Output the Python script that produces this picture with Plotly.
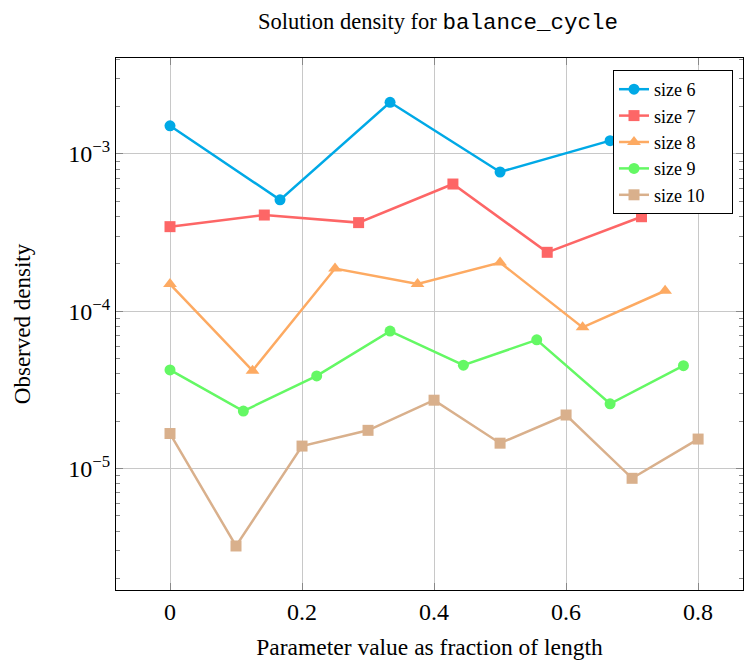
import plotly.graph_objects as go
import numpy as np

sizes = [6, 7, 8, 9, 10]
names = ["size 6", "size 7", "size 8", "size 9", "size 10"]
colors = ["#00a9e6", "#fd6666", "#fdaa62", "#64f864", "#d9b08c"]
symbols = ["circle", "square", "triangle-up", "circle", "square"]

# x values are k/n for k = 0..n-2
x6 = [0, 1/6, 2/6, 3/6, 4/6]
x7 = [0, 1/7, 2/7, 3/7, 4/7, 5/7]
x8 = [0, 1/8, 2/8, 3/8, 4/8, 5/8, 6/8]
x9 = [0, 1/9, 2/9, 3/9, 4/9, 5/9, 6/9, 7/9]
x10 = [0, 0.1, 0.2, 0.3, 0.4, 0.5, 0.6, 0.7, 0.8]

y6 = [1.51e-3, 5.11e-4, 2.13e-3, 7.68e-4, 1.215e-3]
y7 = [3.45e-4, 4.09e-4, 3.66e-4, 6.44e-4, 2.37e-4, 3.99e-4]
y8 = [1.49e-4, 4.19e-5, 1.87e-4, 1.49e-4, 2.04e-4, 7.9e-5, 1.35e-4]
y9 = [4.24e-5, 2.32e-5, 3.88e-5, 7.48e-5, 4.54e-5, 6.58e-5, 2.58e-5, 4.51e-5]
y10 = [1.67e-5, 3.22e-6, 1.39e-5, 1.75e-5, 2.72e-5, 1.45e-5, 2.19e-5, 8.67e-6, 1.54e-5]

xs = [x6, x7, x8, x9, x10]
ys = [y6, y7, y8, y9, y10]

x_ticks = [0, 0.2, 0.4, 0.6, 0.8]
x_tick_labels = ["0", "0.2", "0.4", "0.6", "0.8"]
y_ticks = [1e-5, 1e-4, 1e-3]
y_tick_labels = ["10<sup>\u22125</sup>", "10<sup>\u22124</sup>", "10<sup>\u22123</sup>"]

serif = "Liberation Serif, Times New Roman, serif"

fig = go.Figure()
for i in range(len(sizes)):
    msize = 12 if symbols[i] == "triangle-up" else 11
    fig.add_trace(go.Scatter(
        x=xs[i], y=ys[i], name=names[i] + "\u00a0" * 5, mode="lines+markers",
        line=dict(color=colors[i], width=2.5),
        marker=dict(symbol=symbols[i], size=msize, color=colors[i]),
    ))

minor_vals = []
for d in range(-7, -1):
    for m in range(2, 10):
        minor_vals.append(m * 10.0 ** d)

fig.update_layout(
    width=744, height=664,
    margin=dict(l=116, r=1, t=58, b=74, autoexpand=False),
    plot_bgcolor="white", paper_bgcolor="white",
    font=dict(family=serif, color="black", size=22),
    title=dict(
        text="Solution density for <span style=\"font-family:'Liberation Mono', 'DejaVu Sans Mono', monospace\">balance_cycle</span>",
        x=438 / 744, xanchor="center", y=1 - 21 / 664, yanchor="middle", yref="container",
        font=dict(size=22.5, family=serif),
        automargin=False,
    ),
    showlegend=True,
    legend=dict(
        x=(613 - 116) / 627, y=(590 - 70) / 532, xanchor="left", yanchor="top",
        bgcolor="white", bordercolor="black", borderwidth=1,
        font=dict(size=18, family=serif),
    ),
)

fig.update_xaxes(
    range=[-0.0818, 0.868],
    tickvals=x_ticks, ticktext=x_tick_labels,
    showgrid=True, gridcolor="#c8c8c8", gridwidth=1,
    showline=True, linecolor="black", linewidth=1, mirror="allticks",
    ticks="inside", ticklen=7, tickcolor="#888888",
    tickfont=dict(size=24, family=serif),
    zeroline=False, automargin=False,
    title=dict(text="Parameter value as fraction of length", font=dict(size=23.5, family=serif), standoff=14),
)
fig.update_yaxes(
    type="log",
    range=[-5.772, -2.390],
    tickvals=y_ticks, ticktext=y_tick_labels,
    showgrid=True, gridcolor="#c8c8c8", gridwidth=1,
    showline=True, linecolor="black", linewidth=1, mirror="allticks",
    ticks="inside", ticklen=7, tickcolor="#888888",
    tickfont=dict(size=24, family=serif),
    minor=dict(tickvals=minor_vals, ticks="inside", ticklen=4, tickcolor="#888888", showgrid=False),
    zeroline=False, automargin=False,
    title=dict(text="Observed density", font=dict(size=23, family=serif), standoff=31),
)

fig.write_html(
    "out.html",
    config={"displayModeBar": False},
    post_script="document.body.style.margin='0';document.body.style.overflow='hidden';",
)
